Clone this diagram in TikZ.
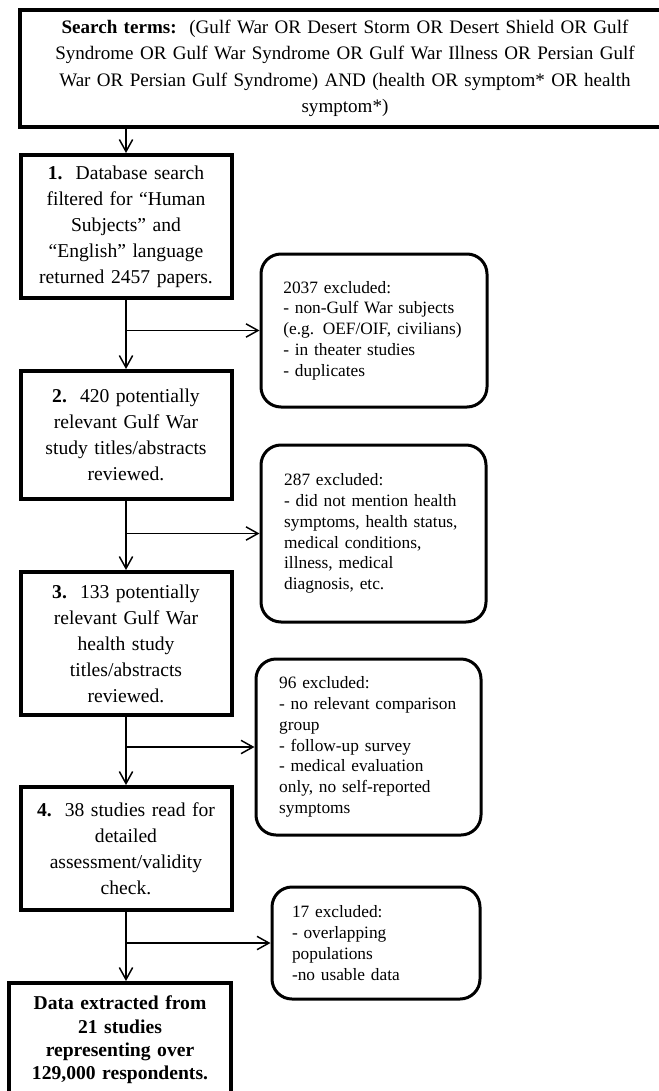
\documentclass[tikz,border=0pt]{standalone}
\usepackage{fontspec}
\setmainfont{Liberation Serif}
\usepackage{tikz}
\usetikzlibrary{calc,positioning,arrows.meta}

\begin{document}
\begin{tikzpicture}[
  x=0.75pt, y=-0.75pt,
  stage/.style={rectangle, draw=black, line width=3pt, align=center, inner sep=0pt,
                text width=145pt, minimum width=158.25pt, font=\fontsize{14.7pt}{19.5pt}\selectfont},
  excl/.style={rectangle, rounded corners=15pt, draw=black, line width=2.25pt, align=left, inner sep=0pt,
                font=\fontsize{13pt}{15.6pt}\selectfont},
  flow/.style={-{Straight Barb[length=9pt,width=10pt]}, draw=black, line width=1.1pt}
]
\useasboundingbox (0,0) rectangle (659,1091);
\clip (0,0) rectangle (659,1091);

\node[stage, text width=480pt, minimum width=487.5pt, minimum height=87.75pt,
      font=\fontsize{14.3pt}{19.8pt}\selectfont] (top) at (345,68.5)
  {\textbf{Search terms:}\ \ (Gulf War OR Desert Storm OR Desert Shield OR Gulf\\
   Syndrome OR Gulf War Syndrome OR Gulf War Illness OR Persian Gulf\\
   War OR Persian Gulf Syndrome) AND (health OR symptom* OR health\\
   symptom*)};

\node[stage, minimum height=107.25pt] (s1) at (126,226.5)
  {\textbf{1.}\ \ Database search\\ filtered for “Human\\ Subjects” and\\ “English” language\\ returned 2457 papers.};
\node[stage, minimum height=96pt] (s2) at (126,435)
  {\textbf{2.}\ \ 420 potentially\\ relevant Gulf War\\ study titles/abstracts\\ reviewed.};
\node[stage, minimum height=107.25pt] (s3) at (126,643.5)
  {\textbf{3.}\ \ 133 potentially\\ relevant Gulf War\\ health study\\ titles/abstracts\\ reviewed.};
\node[stage, minimum height=92.25pt] (s4) at (126,848.5)
  {\textbf{4.}\ \ 38 studies read for\\ detailed\\ assessment/validity\\ check.};
\node[stage, minimum width=166.5pt, minimum height=85.5pt, font=\fontsize{14.7pt}{17.5pt}\selectfont\bfseries] (fin) at (120,1040)
  {Data extracted from\\ 21 studies\\ representing over\\ 129,000 respondents.};

\node[excl, text width=136pt, minimum width=169.5pt, minimum height=114.75pt] (x1) at (374,330.5)
  {2037 excluded:\\ - non-Gulf War subjects\\ (e.g. OEF/OIF, civilians)\\ - in theater studies\\ - duplicates};
\node[excl, text width=134pt, minimum width=168.75pt, minimum height=132.75pt] (x2) at (373.5,533.5)
  {287 excluded:\\ - did not mention health\\ symptoms, health status,\\ medical conditions,\\ illness, medical\\ diagnosis, etc.};
\node[excl, text width=134pt, minimum width=168.75pt, minimum height=132pt] (x3) at (368.5,747)
  {96 excluded:\\ - no relevant comparison\\ group\\ - follow-up survey\\ - medical evaluation\\ only, no self-reported\\ symptoms};
\node[excl, text width=126pt, minimum width=156pt, minimum height=84pt] (x4) at (376,943)
  {17 excluded:\\ - overlapping\\ populations\\ -no usable data};

\draw[flow] (top.south -| s1.north) -- (s1.north);
\draw[flow] (s1.south) -- (s2.north);
\draw[flow] (s1.south |- x1.west) -- (x1.west);
\draw[flow] (s2.south) -- (s3.north);
\draw[flow] (s2.south |- x2.west) -- (x2.west);
\draw[flow] (s3.south) -- (s4.north);
\draw[flow] (s3.south |- x3.west) -- (x3.west);
\draw[flow] (s4.south) -- (s4.south |- fin.north);
\draw[flow] (s4.south |- x4.west) -- (x4.west);
\end{tikzpicture}
\end{document}
